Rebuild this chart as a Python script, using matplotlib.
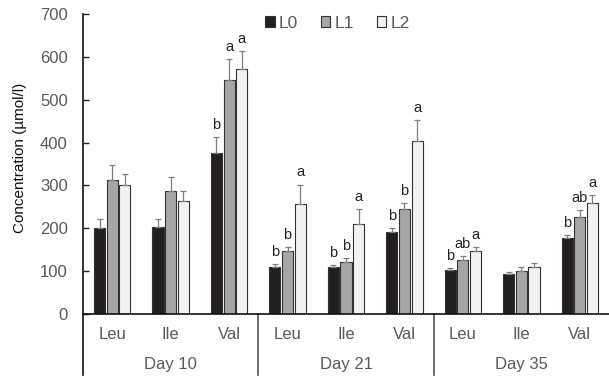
import matplotlib
matplotlib.use("Agg")
import matplotlib.pyplot as plt
import numpy as np
from matplotlib.lines import Line2D
from matplotlib.patches import Patch

plt.rcParams['font.family'] = ['Liberation Sans', 'DejaVu Sans']

amino = ["Leu", "Ile", "Val", "Leu", "Ile", "Val", "Leu", "Ile", "Val"]
days = ["Day 10", "Day 21", "Day 35"]
series = ["L0", "L1", "L2"]

L0 = [200, 203, 375, 110, 109, 192, 103, 93, 177]
L1 = [312, 286, 547, 146, 121, 244, 125, 100, 226]
L2 = [300, 264, 572, 257, 209, 404, 146, 110, 260]
L0_err = [22, 18, 38, 7, 6, 9, 5, 4, 8]
L1_err = [36, 34, 48, 11, 10, 15, 11, 10, 17]
L2_err = [26, 22, 42, 45, 36, 49, 11, 8, 18]
L0_sig = ["", "", "b", "b", "b", "b", "b", "", "b"]
L1_sig = ["", "", "a", "b", "b", "b", "ab", "", "ab"]
L2_sig = ["", "", "a", "a", "a", "a", "a", "", "a"]

colors = ["#231f20", "#a6a6a6", "#f2f2f2"]
gray = "#595959"

fig = plt.figure(figsize=(6.09, 3.8), dpi=100)
ax = fig.add_axes([83/609, 1-314/380, 1-83/609, 300/380])

x = np.arange(len(amino))
w = 0.19
step = 0.216
vals = [L0, L1, L2]
errs = [L0_err, L1_err, L2_err]
sigs = [L0_sig, L1_sig, L2_sig]
for i in range(3):
    xs = x + (i-1)*step
    ax.bar(xs, vals[i], width=w, color=colors[i], edgecolor="#333333", linewidth=0.8,
           yerr=[np.zeros(len(x)), errs[i]], error_kw=dict(ecolor="#7f7f7f", elinewidth=0.9, capsize=2.5, capthick=0.9),
           zorder=2)
    for xi, v, e, s in zip(xs, vals[i], errs[i], sigs[i]):
        if s:
            ax.text(xi, v+e+12, s, ha="center", va="bottom", fontsize=10.5, color="#222222")

ax.set_xlim(-0.5, 8.5)
ax.set_ylim(0, 700)
ax.set_yticks(range(0, 701, 100))
ax.tick_params(axis='y', labelsize=12, labelcolor=gray, direction='in', length=4, width=1,
               color="#222222", pad=11)
ax.tick_params(axis='x', length=0, labelbottom=False)
for sp in ["top", "right"]:
    ax.spines[sp].set_visible(False)
ax.spines["left"].set_linewidth(1.2)
ax.spines["bottom"].set_linewidth(1.2)
ax.spines["left"].set_color("#111111")
ax.spines["bottom"].set_color("#111111")
ax.set_ylabel("Concentration (µmol/l)", fontsize=11, color="#111111")
ax.yaxis.set_label_coords(-0.106, 0.52)

trans = ax.get_xaxis_transform()
for xi, lab in zip(x, amino):
    ax.text(xi, -0.067, lab, transform=trans, ha="center", va="center", fontsize=12, color=gray)
for g, d in enumerate(days):
    ax.text(3*g+1, -0.167, d, transform=trans, ha="center", va="center", fontsize=12, color=gray)
for xs in [-0.5, 2.5, 5.5]:
    ax.add_line(Line2D([xs, xs], [0, -0.203], transform=trans, color="#111111" if xs < 0 else "#555555",
                       linewidth=1.2, clip_on=False))

handles = [Patch(facecolor=c, edgecolor="#333333", linewidth=0.8) for c in colors]
leg = fig.legend(handles, series, loc="center left", bbox_to_anchor=(265/609, 1-23/380), ncol=3,
                 frameon=False, fontsize=12.5, handlelength=0.55, handleheight=0.55,
                 handletextpad=0.25, columnspacing=1.3, borderpad=0, borderaxespad=0)
for t in leg.get_texts():
    t.set_color(gray)

fig.savefig("out.png", dpi=100)
